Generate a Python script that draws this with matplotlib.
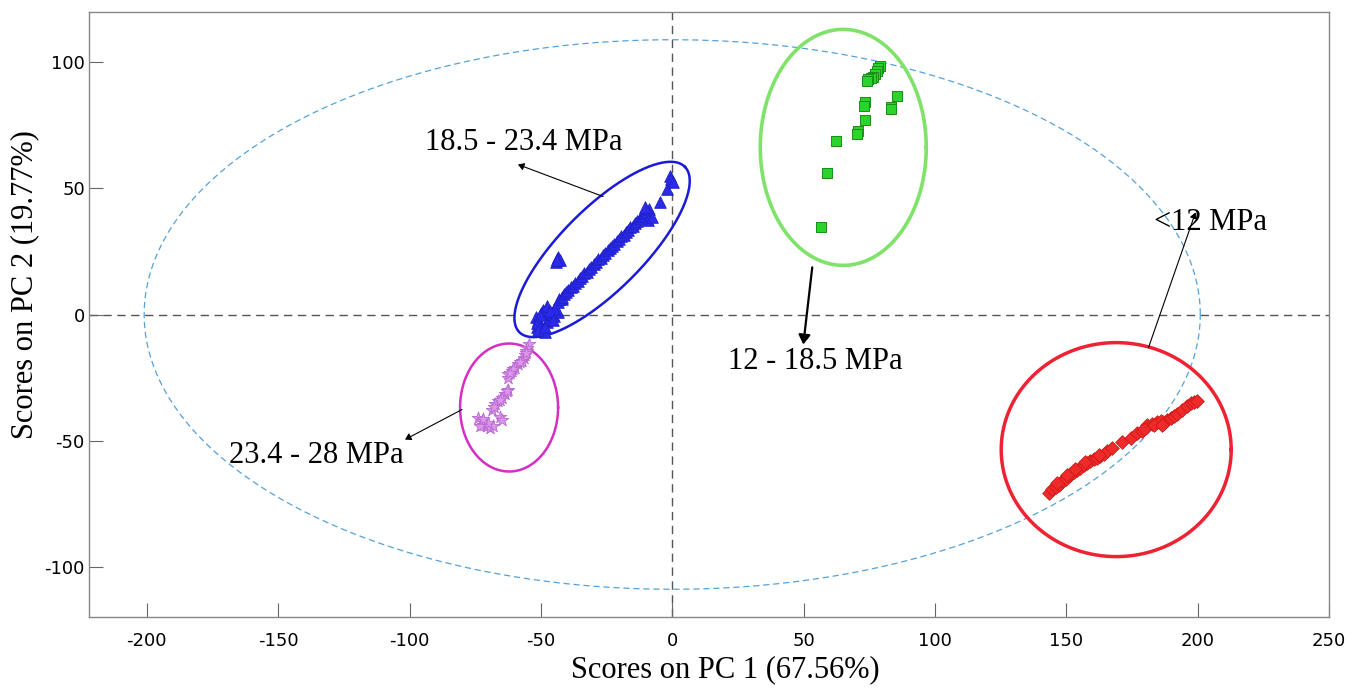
import numpy as np
import matplotlib
matplotlib.use("Agg")
import matplotlib.pyplot as plt
from matplotlib.patches import FancyArrowPatch

plt.rcParams["axes.unicode_minus"] = False

# PC scores
green_x = [79.2, 78.5, 78.1, 77.3, 76.6, 75.8, 74.7, 74.3, 85.7, 73.5,
           73.1, 83.4, 83.4, 73.5, 70.9, 70.5, 62.5, 59.0, 56.8]
green_y = [98.4, 97.6, 96.4, 95.6, 94.4, 94.0, 93.3, 92.5, 86.5, 84.1,
           82.9, 82.5, 81.7, 77.0, 72.6, 71.8, 68.7, 56.3, 34.9]

blue_x = [-50.5, -49.8, -51.2, -48.9, -47.6, -50.1, -52.0, -46.5, -45.8, -44.9,
          -47.2, -43.6, -45.1, -48.3, -49.0, -51.5, -50.3, -47.6, -46.5, -51.4,
          -51.0, -48.4, -45.3, -43.4, -41.9,
          -43.0, -42.1, -41.3, -40.4, -39.5, -38.6, -37.8, -36.9, -36.0, -35.1,
          -34.3, -33.4, -32.5, -31.6, -30.8, -29.9, -29.0, -28.1, -27.3, -26.4,
          -25.5, -24.6, -23.8, -22.9, -22.0, -21.1, -20.3, -19.4, -18.5, -17.6,
          -16.8, -15.9, -15.0, -14.1, -13.3, -12.4, -11.5, -10.6, -9.8, -9.0,
          -8.5, -9.2, -7.8, -10.5,
          -43.4, -43.8, -44.3, -42.8, -44.0,
          -0.8, -0.4, -1.9, -4.6, 0.2]
blue_y = [-6.5, -4.2, -2.1, -5.5, -3.0, 0.5, -1.0, -1.8, 0.2, -0.5,
          1.5, 0.8, 2.3, -7.0, 1.8, -4.8, 0.0, 3.2, 1.2, -3.2,
          -6.0, -4.8, -2.0, 4.8, 6.0,
          6.2, 7.0, 8.1, 8.9, 9.6, 10.8, 11.5, 12.6, 13.3, 14.5,
          15.1, 16.3, 17.0, 18.2, 18.9, 20.0, 20.8, 21.9, 22.5, 23.7,
          24.4, 25.6, 26.2, 27.3, 28.0, 29.2, 29.8, 31.0, 31.7, 32.8,
          33.4, 34.6, 35.3, 36.4, 37.0, 38.3, 38.9, 40.1, 40.7, 41.8,
          39.0, 37.5, 38.5, 42.5,
          23.0, 22.0, 20.8, 21.8, 21.5,
          54.8, 53.6, 49.6, 44.8, 52.5]

magenta_x = [-54.7, -55.1, -55.6, -56.1, -56.6, -57.3, -58.6, -59.8, -61.1, -62.4,
             -62.7, -62.4, -63.6, -64.9, -66.2, -67.4, -68.7, -65.5, -64.9, -73.8,
             -72.5, -71.9, -70.6, -69.3, -68.1, -73.1, -55.8, -57.9, -60.5, -61.8,
             -63.0, -65.6, -67.9, -70.0, -72.0]
magenta_y = [-11.9, -13.2, -14.6, -15.9, -17.2, -18.5, -19.8, -21.2, -22.5, -23.8,
             -25.1, -29.8, -31.7, -33.1, -34.4, -35.7, -37.7, -40.6, -41.7, -41.0,
             -42.3, -43.7, -44.3, -45.0, -44.3, -44.3, -15.2, -19.0, -21.8, -23.2,
             -30.5, -33.8, -36.5, -43.0, -41.5]

red_x = [143.4, 144.6, 145.9, 147.2, 148.5, 149.7, 151.0, 151.6, 152.9, 154.2,
         155.4, 156.7, 158.0, 159.2, 160.5, 161.8, 163.0, 164.3, 165.6, 167.5,
         171.3, 174.5, 177.0, 178.9, 180.8, 182.7, 184.6, 185.9, 187.2, 188.4,
         189.7, 191.0, 192.3, 194.2, 196.1, 197.3, 198.6, 199.9,
         146.5, 150.3, 153.5, 157.3, 162.4, 179.5, 183.5, 186.5]
red_y = [-70.8, -69.4, -68.4, -67.5, -66.1, -65.1, -64.2, -63.2, -62.6, -61.8,
         -60.8, -59.9, -59.1, -58.2, -57.5, -56.9, -56.2, -55.2, -54.2, -52.9,
         -50.7, -48.9, -47.2, -46.3, -44.0, -43.3, -42.7, -42.3, -43.0, -41.9,
         -41.0, -40.3, -39.4, -38.0, -36.1, -35.3, -34.6, -34.2,
         -67.0, -63.8, -61.2, -58.7, -55.7, -45.5, -44.0, -43.8]

# group ellipses: centre, semi-axes (display px), angle (deg)
groups = {
    "green": dict(c=(65.1, 66.3), a=83, b=118, ang=0, col="#7fe36a", lw=2.6),
    "blue": dict(c=(-26.7, 25.8), a=117, b=41, ang=45, col="#1a1ad8", lw=1.8),
    "magenta": dict(c=(-62.1, -36.9), a=49, b=64, ang=0, col="#d42ec4", lw=1.8),
    "red": dict(c=(169.0, -53.6), a=115, b=107, ang=0, col="#ee2233", lw=2.5),
}

labels = ["18.5 - 23.4 MPa", "12 - 18.5 MPa", "23.4 - 28 MPa", "<12 MPa"]
label_pos = [(-56.4, 68.3), (54.5, -18.7), (-135.6, -56.0), (205.0, 36.5)]
arrow_from = [(-26.3, 46.8), (53.3, 18.7), (-80.0, -37.7), (181.3, -13.1)]
arrow_to = [(-58.7, 59.5), (49.9, -11.9), (-101.7, -49.6), (199.2, 40.5)]
arrow_lw = [0.8, 1.6, 0.8, 0.8]

xlim = (-222, 250)
ylim = (-120, 120)

fig = plt.figure(figsize=(13.6, 6.88), dpi=100)
ax = fig.add_axes([89 / 1360, 1 - 617 / 688, 1240 / 1360, 605 / 688])
ax.set_xlim(*xlim)
ax.set_ylim(*ylim)

# px per data unit, to draw ellipses round in screen space
sx = 1240 / (xlim[1] - xlim[0])
sy = 605 / (ylim[1] - ylim[0])

ax.axhline(0, color="#555555", lw=1.0, ls=(0, (6, 4)), zorder=1)
ax.axvline(0, color="#555555", lw=1.0, ls=(0, (6, 4)), zorder=1)

# 95% confidence ellipse
t = np.linspace(0, 2 * np.pi, 400)
ax.plot(201 * np.cos(t), 109 * np.sin(t), color="#55a2da", lw=0.9,
        ls=(0, (5, 3)), zorder=1)

for g in groups.values():
    th = np.deg2rad(g["ang"])
    px = g["a"] * np.cos(t) * np.cos(th) - g["b"] * np.sin(t) * np.sin(th)
    py = g["a"] * np.cos(t) * np.sin(th) + g["b"] * np.sin(t) * np.cos(th)
    ax.plot(g["c"][0] + px / sx, g["c"][1] + py / sy, color=g["col"],
            lw=g["lw"], zorder=2)

ax.scatter(red_x, red_y, marker="D", s=48, c="#ee2a2a", edgecolors="#d01818",
           linewidths=0.6, zorder=3)
ax.scatter(magenta_x, magenta_y, marker="*", s=90, c="#dc96ea",
           edgecolors="#b868d0", linewidths=0.6, zorder=3)
ax.scatter(blue_x, blue_y, marker="^", s=70, c="#2a2ae8", edgecolors="#2020c8",
           linewidths=0.6, zorder=3)
ax.scatter(green_x, green_y, marker="s", s=50, c="#2ad42a", edgecolors="#159015",
           linewidths=0.7, zorder=3)

for txt, pos, p0, p1, lw in zip(labels, label_pos, arrow_from, arrow_to, arrow_lw):
    hw = 3.5 if lw > 1 else 2.2
    ax.add_patch(FancyArrowPatch(p0, p1, arrowstyle=f"-|>,head_length={hw*1.6},head_width={hw}",
                                 color="black", lw=lw, shrinkA=0, shrinkB=0, zorder=4))
    ax.text(pos[0], pos[1], txt, fontsize=22, family="Liberation Serif",
            ha="center", va="center", zorder=5)

ax.set_xticks(np.arange(-200, 251, 50))
ax.set_yticks(np.arange(-100, 101, 50))
ax.tick_params(direction="in", length=10, color="#666666", labelsize=13)
ax.tick_params(axis="x", pad=11)
ax.tick_params(axis="y", pad=3)
for s in ax.spines.values():
    s.set_color("#888888")
    s.set_linewidth(1.0)

ax.set_xlabel("Scores on PC 1 (67.56%)", family="Liberation Serif", fontsize=22,
              va="center")
ax.xaxis.set_label_coords(0.513, -0.087)
ax.set_ylabel("Scores on PC 2 (19.77%)", family="Liberation Serif", fontsize=22,
              va="center")
ax.yaxis.set_label_coords(-0.052, 0.549)

fig.savefig("out.png", dpi=100)
